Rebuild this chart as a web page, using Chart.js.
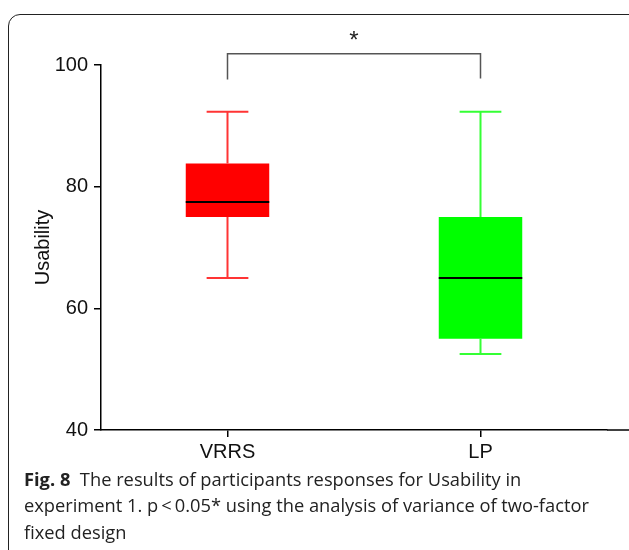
<!DOCTYPE html>
<html>
<head>
<meta charset="utf-8">
<script src="https://cdn.jsdelivr.net/npm/chart.js@4.4.1/dist/chart.umd.min.js"></script>
<style>
  body { margin: 0; width: 629px; height: 550px; overflow: hidden; background: #fff; position: relative; }
  #frame { position: absolute; left: 8px; top: 14px; width: 660px; height: 560px; border: 1.5px solid #222; border-radius: 12px; }
  #wrap { position: absolute; left: 0; top: 0; width: 629px; height: 470px; }
  #caption { position: absolute; left: 24px; top: 465.5px; font-family: "Open Sans", sans-serif; font-size: 18.3px; line-height: 26.5px; color: #222; white-space: nowrap; }
  #caption b { font-weight: 700; }
</style>
</head>
<body>
<div id="frame"></div>
<div id="wrap"><canvas id="usabilityChart" width="629" height="470"></canvas></div>
<div id="caption"><b>Fig. 8</b>&nbsp; The results of participants responses for Usability in<br>experiment 1. p&thinsp;&lt;&thinsp;0.05* using the analysis of variance of two-factor<br>fixed design</div>
<script>
// box plot values
const categories = ['VRRS', 'LP'];
const whiskerMin = [65, 52.5];
const q1 = [75, 55];
const median = [77.5, 65];
const q3 = [83.8, 75];
const whiskerMax = [92.3, 92.3];
const yTicks = [40, 60, 80, 100];
const boxColors = ['#ff0000', '#00ff00'];
const whiskerColors = ['#ff3434', '#34ff34'];
const sigLabel = '*';

// draws whiskers, medians, the significance bracket and the axis extension
const boxExtras = {
  id: 'boxExtras',
  afterDatasetsDraw(chart) {
    const ctx = chart.ctx;
    const x = chart.scales.x;
    const y = chart.scales.y;
    const meta = chart.getDatasetMeta(0);
    ctx.save();
    categories.forEach((c, i) => {
      const bar = meta.data[i];
      const cx = bar.x;
      const half = bar.width / 2;
      const cap = half / 2;
      ctx.strokeStyle = whiskerColors[i];
      ctx.lineWidth = 2;
      ctx.beginPath();
      ctx.moveTo(cx, y.getPixelForValue(q3[i]));
      ctx.lineTo(cx, y.getPixelForValue(whiskerMax[i]));
      ctx.moveTo(cx - cap, y.getPixelForValue(whiskerMax[i]));
      ctx.lineTo(cx + cap, y.getPixelForValue(whiskerMax[i]));
      ctx.moveTo(cx, y.getPixelForValue(q1[i]));
      ctx.lineTo(cx, y.getPixelForValue(whiskerMin[i]));
      ctx.moveTo(cx - cap, y.getPixelForValue(whiskerMin[i]));
      ctx.lineTo(cx + cap, y.getPixelForValue(whiskerMin[i]));
      ctx.stroke();
      ctx.strokeStyle = '#000';
      ctx.lineWidth = 2;
      ctx.beginPath();
      ctx.moveTo(cx - half, y.getPixelForValue(median[i]));
      ctx.lineTo(cx + half, y.getPixelForValue(median[i]));
      ctx.stroke();
    });
    // significance bracket
    const x0 = x.getPixelForValue(0);
    const x1 = x.getPixelForValue(1);
    const top = y.getPixelForValue(101.85);
    ctx.strokeStyle = '#555';
    ctx.lineWidth = 1.5;
    ctx.beginPath();
    ctx.moveTo(x0, y.getPixelForValue(97.6));
    ctx.lineTo(x0, top);
    ctx.lineTo(x1, top);
    ctx.lineTo(x1, y.getPixelForValue(97.8));
    ctx.stroke();
    ctx.fillStyle = '#222';
    ctx.font = '24px "Liberation Sans", Arial, sans-serif';
    ctx.textAlign = 'center';
    ctx.textBaseline = 'alphabetic';
    ctx.fillText(sigLabel, (x0 + x1) / 2, y.getPixelForValue(102.8));
    // x axis line runs on to the edge
    ctx.strokeStyle = '#000';
    ctx.lineWidth = 1.5;
    ctx.beginPath();
    ctx.moveTo(chart.chartArea.right, chart.chartArea.bottom);
    ctx.lineTo(chart.width, chart.chartArea.bottom);
    ctx.stroke();
    ctx.restore();
  }
};

const ctx = document.getElementById('usabilityChart').getContext('2d');

const usabilityChart = new Chart(ctx, {
  type: 'bar',
  data: {
    labels: categories,
    datasets: [{
      label: 'Usability',
      data: categories.map((c, i) => [q1[i], q3[i]]),
      backgroundColor: boxColors,
      borderWidth: 0,
      barPercentage: 0.33,
      categoryPercentage: 1
    }]
  },
  options: {
    responsive: false,
    animation: false,
    layout: { padding: { top: 65, right: 22, left: 0, bottom: 0 } },
    plugins: { legend: { display: false }, tooltip: { enabled: false } },
    scales: {
      x: {
        grid: { offset: false, drawOnChartArea: false, drawTicks: true, tickLength: 7, color: '#000', lineWidth: 1.5 },
        border: { color: '#000', width: 1.5 },
        ticks: { color: '#111', font: { family: '"Liberation Sans", Arial, sans-serif', size: 20 }, padding: 3 },
        afterFit: s => { s.height = 40; }
      },
      y: {
        min: 40,
        max: 100,
        afterBuildTicks: s => { s.ticks = yTicks.map(v => ({ value: v })); },
        grid: { drawOnChartArea: false, drawTicks: true, tickLength: 7, color: '#000', lineWidth: 1.5 },
        border: { color: '#000', width: 1.5 },
        ticks: { color: '#111', font: { family: '"Liberation Sans", Arial, sans-serif', size: 20 }, padding: 6 },
        title: { display: true, text: 'Usability', color: '#111', font: { family: '"Liberation Sans", Arial, sans-serif', size: 20 }, padding: { top: 31, bottom: 0 } },
        afterFit: s => { s.width = 101; }
      }
    }
  },
  plugins: [boxExtras]
});
</script>
</body>
</html>
